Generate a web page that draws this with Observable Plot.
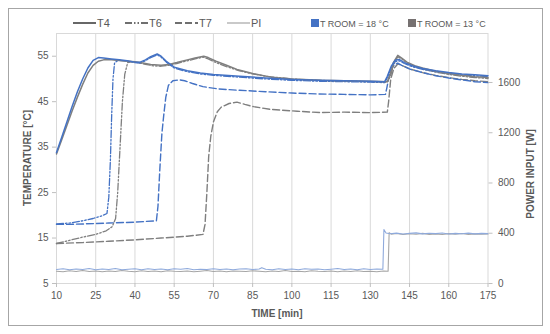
<!DOCTYPE html>
<html><head><meta charset="utf-8">
<script src="https://cdn.jsdelivr.net/npm/d3@7"></script>
<script src="https://cdn.jsdelivr.net/npm/@observablehq/plot@0.6"></script>
<style>
body{margin:0;background:#fff;font-family:"Liberation Sans",Arial,sans-serif;}
#wrap{position:relative;width:550px;height:334px;overflow:hidden;}
#border{position:absolute;left:8px;top:8px;width:535px;height:318px;border:1.5px solid #a6a6a6;box-sizing:border-box;pointer-events:none;}
#chart{position:absolute;left:0;top:0;}
</style></head>
<body><div id="wrap"><div id="chart"></div><div id="border"></div></div>
<script>
// ---- tick labels ----
const xTicks = [10,25,40,55,70,85,100,115,130,145,160,175];
const yTicks = [5,15,25,35,45,55];
const pTicks = [0,400,800,1200,1600];

// ---- T ROOM = 18 °C (blue) ----
const blueT4 = [[10,33.8],[12,37.2],[14,40.6],[16,44.0],[18,47.2],[20,50.0],[22,52.4],[24,54.1],[26,54.7],[28,54.6],[31,54.4],[34,54.2],[37,54.0],[40,53.7],[42,53.7],[44,54.2],[46,54.9],[48.5,55.5],[50,55.0],[52,53.9],[55,52.6],[60,51.8],[65,51.3],[70,51.0],[80,50.6],[90,50.2],[100,49.9],[110,49.7],[120,49.6],[130,49.5],[135.5,49.4],[136.5,50.6],[138,52.8],[139.5,54.1],[141,54.3],[143,53.6],[146,52.9],[150,52.3],[155,51.8],[160,51.4],[165,51.1],[170,50.9],[175,50.7]];
const blueT6 = [[10,18.1],[15,18.3],[20,18.8],[24,19.3],[27,19.8],[29.3,20.4],[30,24],[30.6,32],[31.1,42],[31.6,50],[32.2,53.5],[33.5,54.1],[37,53.9],[40,53.6],[42,53.5],[44,54.0],[46,54.7],[48.5,55.3],[50,54.8],[52,53.7],[55,52.4],[60,51.6],[65,51.1],[70,50.8],[80,50.4],[90,50.0],[100,49.7],[110,49.5],[120,49.4],[130,49.3],[135.5,49.2],[136.5,50.3],[138,52.5],[139.5,53.8],[141,54.0],[143,53.4],[146,52.7],[150,52.1],[155,51.6],[160,51.2],[165,50.9],[170,50.7],[175,50.5]];
const blueT7 = [[10,18.0],[15,18.0],[20,18.1],[30,18.3],[40,18.5],[48.2,18.8],[48.8,22],[49.5,30],[50.3,38],[51,42],[51.8,46],[52.8,48.6],[54.5,49.6],[57,49.8],[59,49.6],[62,49.0],[66,48.3],[72,47.8],[80,47.5],[90,47.2],[100,46.9],[110,46.7],[120,46.6],[130,46.5],[135.8,46.6],[136.3,48],[137.5,51.5],[139,53.0],[140.5,53.5],[142,53.0],[145,52.2],[150,51.4],[155,50.7],[160,50.2],[165,49.8],[170,49.4],[175,49.2]];
const bluePI = [[10,112],[12.5,118],[15,109],[17.5,116],[20,111],[22.5,119],[25,110],[27.5,115],[30,112],[32.5,120],[35,109],[37.5,114],[40,117],[42.5,110],[45,118],[47.5,112],[50,115],[52.5,109],[55,117],[57.5,113],[60,119],[62.5,110],[65,114],[67.5,111],[70,118],[72.5,112],[75,116],[77.5,109],[80,115],[82.5,118],[85,111],[87.5,116],[88.5,126],[90,113],[92.5,110],[95,117],[97.5,112],[100,115],[102.5,109],[105,118],[107.5,113],[110,116],[112.5,110],[115,114],[117.5,119],[120,111],[122.5,115],[125,109],[127.5,117],[130,112],[132.5,116],[134.8,114],[135.2,430],[136,402],[137.5,396],[140,401],[142.5,394],[145,399],[147.5,403],[150,395],[152.5,400],[155,397],[157.5,402],[160,394],[162.5,399],[165,396],[167.5,401],[170,395],[172.5,399],[175,397]];

// ---- T ROOM = 13 °C (grey) ----
const greyT4 = [[10,33.5],[12,36.6],[14,39.8],[16,43.0],[18,46.0],[20,48.8],[22,51.3],[24,53.0],[26,53.9],[28,54.2],[31,54.2],[35,54.0],[40,53.8],[43,53.5],[46,53.2],[50,53.0],[53,53.2],[56,53.6],[60,54.2],[63,54.6],[66.3,55.0],[68,54.7],[71,53.9],[75,53.0],[79,52.1],[85,51.2],[92,50.4],[100,50.0],[111,49.7],[120,49.6],[130,49.5],[136.5,49.4],[137.5,50.8],[138.8,53.6],[140.5,55.2],[142,54.6],[144,53.7],[147,52.9],[150,52.4],[155,51.7],[160,51.2],[165,50.8],[170,50.5],[175,50.3]];
const greyT6 = [[10,13.8],[15,14.5],[20,15.2],[25,15.8],[29,16.6],[31.3,17.5],[32.6,19.3],[33.4,25],[34.3,35],[35.2,45],[36.1,51],[37.2,53.6],[39,53.8],[41,53.6],[44,53.2],[47,52.9],[50,52.8],[53,53.0],[56,53.4],[60,54.0],[63,54.4],[66,54.8],[68,54.4],[71,53.6],[75,52.7],[80,51.8],[85,51.1],[90,50.6],[100,50.0],[110,49.7],[120,49.5],[130,49.4],[136.5,49.3],[137.7,50.6],[139,53.3],[140.5,54.9],[142,54.4],[144,53.5],[147,52.7],[150,52.2],[155,51.5],[160,51.0],[165,50.6],[170,50.3],[175,50.1]];
const greyT7 = [[10,13.8],[20,14.0],[30,14.3],[40,14.6],[50,15.0],[60,15.4],[66,15.8],[66.8,18],[67.5,25],[68.2,33],[69,37.4],[70,40.5],[71.5,42.8],[73,43.8],[76,44.6],[79,44.9],[82,44.4],[85.4,43.9],[91.8,43.3],[102,42.9],[111,42.6],[120,42.7],[130,42.6],[136.5,42.7],[137,45],[137.8,50],[139,52.3],[140.5,53.3],[142,53.0],[145,52.2],[150,51.4],[155,50.8],[160,50.3],[165,49.9],[170,49.6],[175,49.4]];
const greyPI = [[10,98],[12.5,94],[15,101],[17.5,96],[20,103],[22.5,95],[25,99],[27.5,93],[30,100],[32.5,96],[35,104],[37.5,97],[40,94],[42.5,101],[45,96],[47.5,99],[50,93],[52.5,102],[55,97],[57.5,95],[60,100],[62.5,94],[65,98],[67.5,103],[70,96],[72.5,99],[75,93],[77.5,100],[80,97],[82.5,95],[85,101],[87.5,98],[90,94],[92.5,100],[95,96],[97.5,103],[100,95],[102.5,98],[105,93],[107.5,101],[110,97],[112.5,95],[115,100],[117.5,94],[120,99],[122.5,96],[125,102],[127.5,95],[130,98],[132.5,93],[135,100],[136.8,97],[137.2,405],[138,393],[140,398],[142.5,390],[145,396],[147.5,392],[150,399],[152.5,391],[155,395],[157.5,390],[160,397],[162.5,393],[165,398],[167.5,391],[170,395],[172.5,392],[175,394]];

// ---- styling ----
const BLUE = "#4472C4", GREY = "#7F7F7F";
const BLUE_PI = "#8FAADC", GREY_PI = "#A6A6A6";
const DASH_T6 = "7,2,1.5,2,1.5,2";
const DASH_T7 = "7,3";

// secondary axis: power (W) mapped onto temperature scale
const P_MAX = 1990;
const pw = p => 5 + p * 55 / P_MAX;

const toRows = arr => arr.map(([t, v]) => ({t, v}));
const toRowsP = arr => arr.map(([t, p]) => ({t, v: pw(p)}));

const series = [
  {d: toRowsP(greyPI), stroke: GREY_PI, w: 1.1, dash: null},
  {d: toRowsP(bluePI), stroke: BLUE_PI, w: 1.1, dash: null},
  {d: toRows(greyT7), stroke: GREY, w: 1.4, dash: DASH_T7},
  {d: toRows(blueT7), stroke: BLUE, w: 1.4, dash: DASH_T7},
  {d: toRows(greyT6), stroke: GREY, w: 1.3, dash: DASH_T6},
  {d: toRows(blueT6), stroke: BLUE, w: 1.3, dash: DASH_T6},
  {d: toRows(greyT4), stroke: GREY, w: 1.5, dash: null},
  {d: toRows(blueT4), stroke: BLUE, w: 1.5, dash: null}
];

const plot = Plot.plot({
  width: 550, height: 334,
  marginLeft: 56, marginRight: 62.5, marginTop: 33, marginBottom: 51,
  style: {fontFamily: '"Liberation Sans", Arial, sans-serif', fontSize: "10px", color: "#595959", background: "transparent"},
  x: {domain: [10, 175]},
  y: {domain: [5, 60]},
  marks: [
    Plot.gridX(xTicks.slice(1, -1), {stroke: "#d9d9d9", strokeOpacity: 1}),
    Plot.frame({stroke: "#d9d9d9"}),
    ...series.map(s => Plot.line(s.d, {x: "t", y: "v", stroke: s.stroke, strokeWidth: s.w, strokeDasharray: s.dash ?? undefined, curve: "linear"})),
    Plot.axisX({ticks: xTicks, tickSize: 4, tickPadding: 4, stroke: "#bfbfbf", label: null}),
    Plot.axisY({ticks: yTicks, tickSize: 4, tickPadding: 4, stroke: "#bfbfbf", label: null}),
    Plot.axisY({anchor: "right", ticks: pTicks.map(pw), tickFormat: d => String(Math.round((d - 5) * P_MAX / 55)), tickSize: 4, tickPadding: 6, stroke: "#bfbfbf", label: null})
  ]
});
document.getElementById("chart").appendChild(plot);

// titles and legend added as SVG text
const svg = d3.select(plot);
const F = '"Liberation Sans", Arial, sans-serif';
svg.append("text").attr("transform", "translate(31,158) rotate(-90)").attr("text-anchor", "middle")
  .attr("font-family", F).attr("font-size", 10).attr("font-weight", "bold").attr("fill", "#595959").text("TEMPERATURE [°C]");
svg.append("text").attr("transform", "translate(534,174) rotate(-90)").attr("text-anchor", "middle")
  .attr("font-family", F).attr("font-size", 10).attr("font-weight", "bold").attr("fill", "#595959").text("POWER INPUT [W]");
svg.append("text").attr("x", 277).attr("y", 316.5).attr("text-anchor", "middle")
  .attr("font-family", F).attr("font-size", 10).attr("font-weight", "bold").attr("fill", "#595959").text("TIME [min]");

const legendLines = [
  {label: "T4", x: 73, stroke: "#404040", w: 1.6, dash: null},
  {label: "T6", x: 125, stroke: "#404040", w: 1.5, dash: DASH_T6},
  {label: "T7", x: 175, stroke: "#404040", w: 1.5, dash: DASH_T7},
  {label: "PI", x: 227, stroke: "#a6a6a6", w: 1.2, dash: null}
];
const lg = svg.append("g").attr("text-anchor", "start");
legendLines.forEach(l => {
  lg.append("line").attr("x1", l.x).attr("x2", l.x + 23).attr("y1", 23).attr("y2", 23)
    .attr("stroke", l.stroke).attr("stroke-width", l.w).attr("stroke-dasharray", l.dash);
  lg.append("text").attr("x", l.x + 24).attr("y", 27).attr("text-anchor", "start").attr("font-family", F).attr("font-size", 11)
    .attr("fill", "#595959").text(l.label);
});
const rooms = [{label: "T ROOM = 18 °C", color: "#4472C4", x: 311}, {label: "T ROOM = 13 °C", color: "#767171", x: 408}];
rooms.forEach(r => {
  lg.append("rect").attr("x", r.x).attr("y", 19).attr("width", 8).attr("height", 8).attr("fill", r.color);
  lg.append("text").attr("x", r.x + 9).attr("y", 26.5).attr("text-anchor", "start").attr("font-family", F).attr("font-size", 9)
    .attr("fill", "#595959").text(r.label);
});
</script></body></html>
